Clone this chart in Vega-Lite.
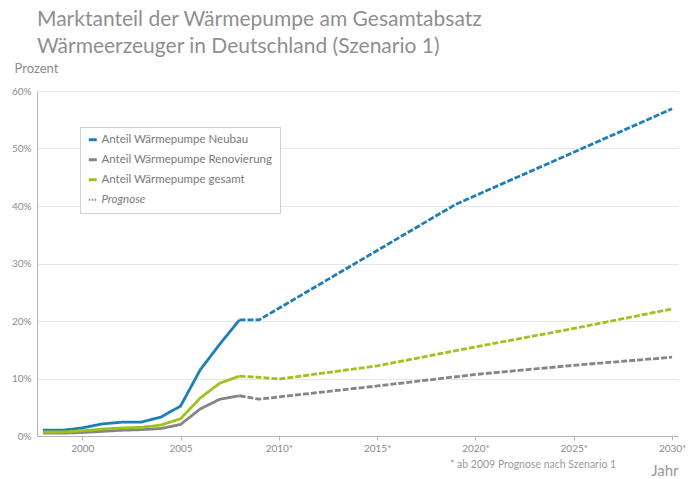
{
  "$schema": "https://vega.github.io/schema/vega-lite/v6.json",
  "width": 641,
  "height": 345,
  "autosize": {"type": "none"},
  "padding": {"left": 37, "top": 91, "right": 15, "bottom": 43},
  "background": "white",
  "config": {
    "font": "Lato",
    "view": {"stroke": null},
    "axis": {"labelColor": "#8c8c8c", "labelFontSize": 10, "domainColor": "#b5b5b5", "tickColor": "#b5b5b5", "gridColor": "#e6e6e6", "titleColor": "#8c8c8c", "titleFontWeight": "normal"}
  },
  "title": {
    "text": ["Marktanteil der Wärmepumpe am Gesamtabsatz", "Wärmeerzeuger in Deutschland (Szenario 1)"],
    "anchor": "start",
    "frame": "group",
    "fontSize": 21,
    "fontWeight": "normal",
    "color": "#8f8f8f",
    "lineHeight": 27,
    "offset": 5
  },
  "layer": [
    {
      "data": {
        "values": [
          {"year": 1998, "value": 0.010, "series": "Anteil Wärmepumpe Neubau", "phase": "Ist"},
          {"year": 1999, "value": 0.010, "series": "Anteil Wärmepumpe Neubau", "phase": "Ist"},
          {"year": 2000, "value": 0.014, "series": "Anteil Wärmepumpe Neubau", "phase": "Ist"},
          {"year": 2001, "value": 0.021, "series": "Anteil Wärmepumpe Neubau", "phase": "Ist"},
          {"year": 2002, "value": 0.024, "series": "Anteil Wärmepumpe Neubau", "phase": "Ist"},
          {"year": 2003, "value": 0.024, "series": "Anteil Wärmepumpe Neubau", "phase": "Ist"},
          {"year": 2004, "value": 0.033, "series": "Anteil Wärmepumpe Neubau", "phase": "Ist"},
          {"year": 2005, "value": 0.052, "series": "Anteil Wärmepumpe Neubau", "phase": "Ist"},
          {"year": 2006, "value": 0.115, "series": "Anteil Wärmepumpe Neubau", "phase": "Ist"},
          {"year": 2007, "value": 0.160, "series": "Anteil Wärmepumpe Neubau", "phase": "Ist"},
          {"year": 2008, "value": 0.202, "series": "Anteil Wärmepumpe Neubau", "phase": "Ist"},
          {"year": 2008, "value": 0.202, "series": "Anteil Wärmepumpe Neubau", "phase": "Prognose"},
          {"year": 2009, "value": 0.202, "series": "Anteil Wärmepumpe Neubau", "phase": "Prognose"},
          {"year": 2019, "value": 0.403, "series": "Anteil Wärmepumpe Neubau", "phase": "Prognose"},
          {"year": 2030, "value": 0.569, "series": "Anteil Wärmepumpe Neubau", "phase": "Prognose"},
          {"year": 1998, "value": 0.005, "series": "Anteil Wärmepumpe Renovierung", "phase": "Ist"},
          {"year": 1999, "value": 0.005, "series": "Anteil Wärmepumpe Renovierung", "phase": "Ist"},
          {"year": 2000, "value": 0.006, "series": "Anteil Wärmepumpe Renovierung", "phase": "Ist"},
          {"year": 2001, "value": 0.008, "series": "Anteil Wärmepumpe Renovierung", "phase": "Ist"},
          {"year": 2002, "value": 0.010, "series": "Anteil Wärmepumpe Renovierung", "phase": "Ist"},
          {"year": 2003, "value": 0.011, "series": "Anteil Wärmepumpe Renovierung", "phase": "Ist"},
          {"year": 2004, "value": 0.013, "series": "Anteil Wärmepumpe Renovierung", "phase": "Ist"},
          {"year": 2005, "value": 0.020, "series": "Anteil Wärmepumpe Renovierung", "phase": "Ist"},
          {"year": 2006, "value": 0.047, "series": "Anteil Wärmepumpe Renovierung", "phase": "Ist"},
          {"year": 2007, "value": 0.064, "series": "Anteil Wärmepumpe Renovierung", "phase": "Ist"},
          {"year": 2008, "value": 0.070, "series": "Anteil Wärmepumpe Renovierung", "phase": "Ist"},
          {"year": 2008, "value": 0.070, "series": "Anteil Wärmepumpe Renovierung", "phase": "Prognose"},
          {"year": 2009, "value": 0.064, "series": "Anteil Wärmepumpe Renovierung", "phase": "Prognose"},
          {"year": 2010, "value": 0.068, "series": "Anteil Wärmepumpe Renovierung", "phase": "Prognose"},
          {"year": 2015, "value": 0.087, "series": "Anteil Wärmepumpe Renovierung", "phase": "Prognose"},
          {"year": 2020, "value": 0.107, "series": "Anteil Wärmepumpe Renovierung", "phase": "Prognose"},
          {"year": 2025, "value": 0.123, "series": "Anteil Wärmepumpe Renovierung", "phase": "Prognose"},
          {"year": 2030, "value": 0.137, "series": "Anteil Wärmepumpe Renovierung", "phase": "Prognose"},
          {"year": 1998, "value": 0.007, "series": "Anteil Wärmepumpe gesamt", "phase": "Ist"},
          {"year": 1999, "value": 0.007, "series": "Anteil Wärmepumpe gesamt", "phase": "Ist"},
          {"year": 2000, "value": 0.009, "series": "Anteil Wärmepumpe gesamt", "phase": "Ist"},
          {"year": 2001, "value": 0.012, "series": "Anteil Wärmepumpe gesamt", "phase": "Ist"},
          {"year": 2002, "value": 0.014, "series": "Anteil Wärmepumpe gesamt", "phase": "Ist"},
          {"year": 2003, "value": 0.015, "series": "Anteil Wärmepumpe gesamt", "phase": "Ist"},
          {"year": 2004, "value": 0.019, "series": "Anteil Wärmepumpe gesamt", "phase": "Ist"},
          {"year": 2005, "value": 0.030, "series": "Anteil Wärmepumpe gesamt", "phase": "Ist"},
          {"year": 2006, "value": 0.066, "series": "Anteil Wärmepumpe gesamt", "phase": "Ist"},
          {"year": 2007, "value": 0.092, "series": "Anteil Wärmepumpe gesamt", "phase": "Ist"},
          {"year": 2008, "value": 0.104, "series": "Anteil Wärmepumpe gesamt", "phase": "Ist"},
          {"year": 2008, "value": 0.104, "series": "Anteil Wärmepumpe gesamt", "phase": "Prognose"},
          {"year": 2009, "value": 0.102, "series": "Anteil Wärmepumpe gesamt", "phase": "Prognose"},
          {"year": 2010, "value": 0.099, "series": "Anteil Wärmepumpe gesamt", "phase": "Prognose"},
          {"year": 2015, "value": 0.122, "series": "Anteil Wärmepumpe gesamt", "phase": "Prognose"},
          {"year": 2020, "value": 0.155, "series": "Anteil Wärmepumpe gesamt", "phase": "Prognose"},
          {"year": 2025, "value": 0.187, "series": "Anteil Wärmepumpe gesamt", "phase": "Prognose"},
          {"year": 2030, "value": 0.221, "series": "Anteil Wärmepumpe gesamt", "phase": "Prognose"}
        ]
      },
      "mark": {"type": "line", "strokeWidth": 2.8, "clip": false},
      "encoding": {
        "x": {
          "field": "year", "type": "quantitative",
          "scale": {"domain": [1997.7, 2030.3], "nice": false, "zero": false},
          "axis": {
            "values": [2000, 2005, 2010, 2015, 2020, 2025, 2030],
            "labelExpr": "datum.value >= 2010 ? datum.value + '*' : '' + datum.value",
            "grid": false, "tickSize": 4, "labelPadding": 3,
            "title": "Jahr", "titleFontSize": 15, "titleColor": "#999999",
            "titleAnchor": "end", "titleAlign": "right", "titleBaseline": "alphabetic", "titleX": 641, "titleY": 39
          }
        },
        "y": {
          "field": "value", "type": "quantitative",
          "scale": {"domain": [0, 0.6], "nice": false},
          "axis": {
            "values": [0, 0.1, 0.2, 0.3, 0.4, 0.5, 0.6],
            "format": ".0%", "ticks": false, "labelPadding": 6,
            "title": "Prozent", "titleAngle": 0, "titleAlign": "left", "titleBaseline": "alphabetic",
            "titleX": -23, "titleY": -19, "titleFontSize": 13, "titleColor": "#8c8c8c"
          }
        },
        "color": {
          "field": "series", "type": "nominal",
          "scale": {
            "domain": ["Anteil Wärmepumpe Neubau", "Anteil Wärmepumpe Renovierung", "Anteil Wärmepumpe gesamt", "Prognose"],
            "range": ["#1f7db8", "#858585", "#9cc31f", "#8a8a8a"]
          },
          "legend": {
            "title": null,
            "orient": "none",
            "legendX": 43,
            "legendY": 36,
            "symbolType": "stroke",
            "symbolSize": 64,
            "symbolStrokeWidth": 3,
            "labelFontSize": 11.5,
            "labelColor": "#7a7a7a",
            "labelOffset": 3,
            "rowPadding": 7,
            "padding": 7,
            "strokeColor": "#d0d0d0",
            "fillColor": "white",
            "labelLimit": 300,
            "encode": {
              "symbols": {"update": {"strokeDash": {"signal": "datum.label === 'Prognose' ? [1.5, 1.5] : []"}, "strokeWidth": {"signal": "datum.label === 'Prognose' ? 2 : 3"}}},
              "labels": {"update": {"fontStyle": {"signal": "datum.label === 'Prognose' ? 'italic' : 'normal'"}}}
            }
          }
        },
        "strokeDash": {
          "field": "phase", "type": "nominal",
          "scale": {"domain": ["Ist", "Prognose"], "range": [[1, 0], [6, 2]]},
          "legend": null
        }
      }
    },
    {
      "data": {"values": [{"note": "* ab 2009 Prognose nach Szenario 1"}]},
      "mark": {"type": "text", "align": "left", "baseline": "middle", "fontSize": 10.5, "color": "#9a9a9a", "clip": false},
      "encoding": {
        "x": {"datum": 2018.7, "type": "quantitative"},
        "y": {"datum": -0.05, "type": "quantitative"},
        "text": {"field": "note", "type": "nominal"}
      }
    }
  ]
}
